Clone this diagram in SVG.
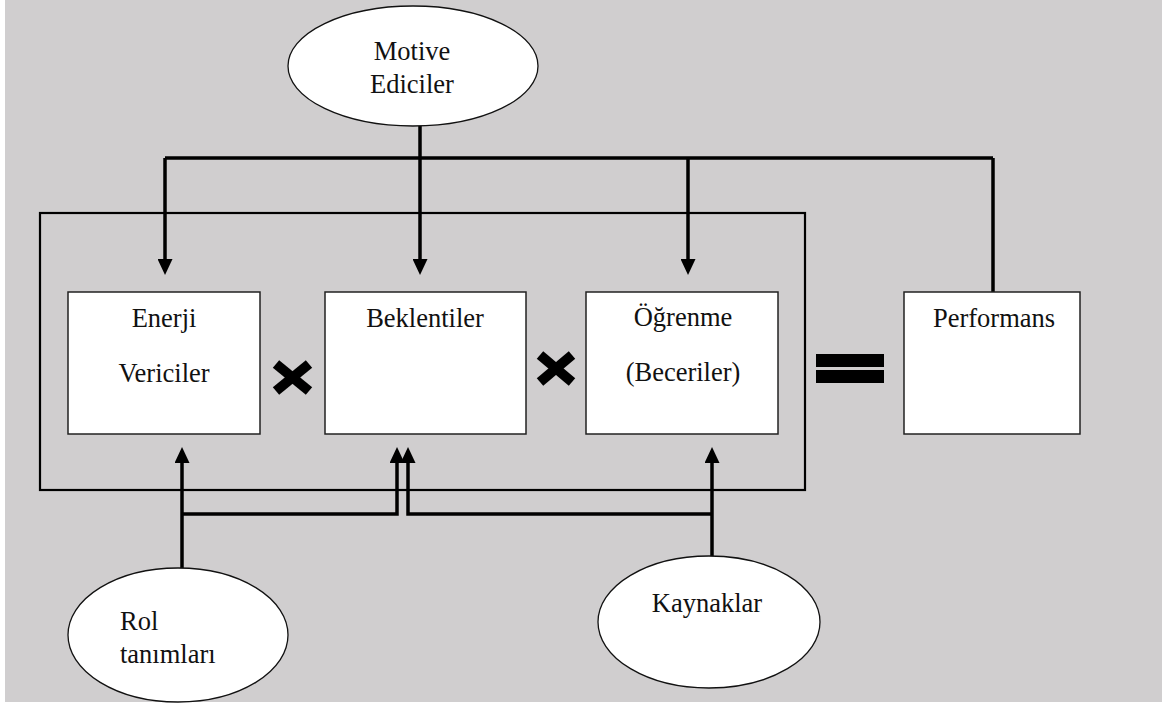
<svg xmlns="http://www.w3.org/2000/svg" width="1162" height="706" viewBox="0 0 1162 706">
<style>
  .bg { fill: #d0cecf; }
  .box { fill: #ffffff; stroke: #222; stroke-width: 1.5; }
  .ell { fill: #ffffff; stroke: #111; stroke-width: 1.3; }
  .frame { fill: none; stroke: #000; stroke-width: 2.2; }
  .conn { fill: none; stroke: #000; stroke-width: 3.5; stroke-linejoin: miter; }
  .lbl { font-family: "Liberation Serif", "Times New Roman", serif; font-size: 26.5px; fill: #111; }
  .mid { text-anchor: middle; }
  .xm { stroke: #000; stroke-width: 10; }
</style>
<defs>
  <marker id="arr" markerUnits="userSpaceOnUse" markerWidth="16" markerHeight="15" viewBox="0 0 16 15" refX="12" refY="7.5" orient="auto">
    <path d="M0,0 L16,7.5 L0,15 z" fill="#000"/>
  </marker>
</defs>
<rect x="0" y="0" width="1162" height="706" fill="#ffffff"/>
<rect class="bg" x="5" y="0" width="1157" height="702"/>

<rect id="frame" class="frame" x="40" y="213" width="765" height="277"/>

<g id="connectors">
  <polyline class="conn" points="165,158 993,158"/>
  <line class="conn" x1="165" y1="158" x2="165" y2="271" marker-end="url(#arr)"/>
  <line class="conn" x1="420" y1="126" x2="420" y2="271" marker-end="url(#arr)"/>
  <line class="conn" x1="688" y1="158" x2="688" y2="271" marker-end="url(#arr)"/>
  <polyline class="conn" points="993,158 993,292"/>
  <line class="conn" x1="182" y1="568" x2="182" y2="451" marker-end="url(#arr)"/>
  <polyline class="conn" points="182,514 397,514 397,451" marker-end="url(#arr)"/>
  <line class="conn" x1="712" y1="557" x2="712" y2="451" marker-end="url(#arr)"/>
  <polyline class="conn" points="712,514 408,514 408,451" marker-end="url(#arr)"/>
</g>

<g id="motive">
  <ellipse class="ell" cx="413" cy="66" rx="125" ry="60"/>
  <text class="lbl mid" x="412" y="60">Motive</text>
  <text class="lbl mid" x="412" y="93">Ediciler</text>
</g>

<g id="enerji">
  <rect class="box" x="68" y="292" width="192" height="142"/>
  <text class="lbl mid" x="164" y="327">Enerji</text>
  <text class="lbl mid" x="164" y="382">Vericiler</text>
</g>

<g id="beklentiler">
  <rect class="box" x="325" y="292" width="201" height="142"/>
  <text class="lbl mid" x="425" y="327">Beklentiler</text>
</g>

<g id="ogrenme">
  <rect class="box" x="586" y="292" width="192" height="142"/>
  <text class="lbl mid" x="683" y="326">Öğrenme</text>
  <text class="lbl mid" x="683" y="381">(Beceriler)</text>
</g>

<g id="performans">
  <rect class="box" x="904" y="292" width="176" height="142"/>
  <text class="lbl mid" x="994" y="327">Performans</text>
</g>

<g id="rol">
  <ellipse class="ell" cx="178" cy="635" rx="110" ry="67"/>
  <text class="lbl" x="120" y="630">Rol</text>
  <text class="lbl" x="120" y="663">tanımları</text>
</g>

<g id="kaynaklar">
  <ellipse class="ell" cx="709" cy="622" rx="111" ry="66"/>
  <text class="lbl mid" x="707" y="612">Kaynaklar</text>
</g>

<g id="operators">
  <line class="xm" x1="276" y1="364" x2="309" y2="391"/>
  <line class="xm" x1="276" y1="391" x2="309" y2="364"/>
  <line class="xm" x1="540" y1="355" x2="572" y2="382"/>
  <line class="xm" x1="540" y1="382" x2="572" y2="355"/>
  <rect x="816" y="354" width="68" height="13" fill="#000"/>
  <rect x="816" y="370" width="68" height="13" fill="#000"/>
</g>
</svg>
